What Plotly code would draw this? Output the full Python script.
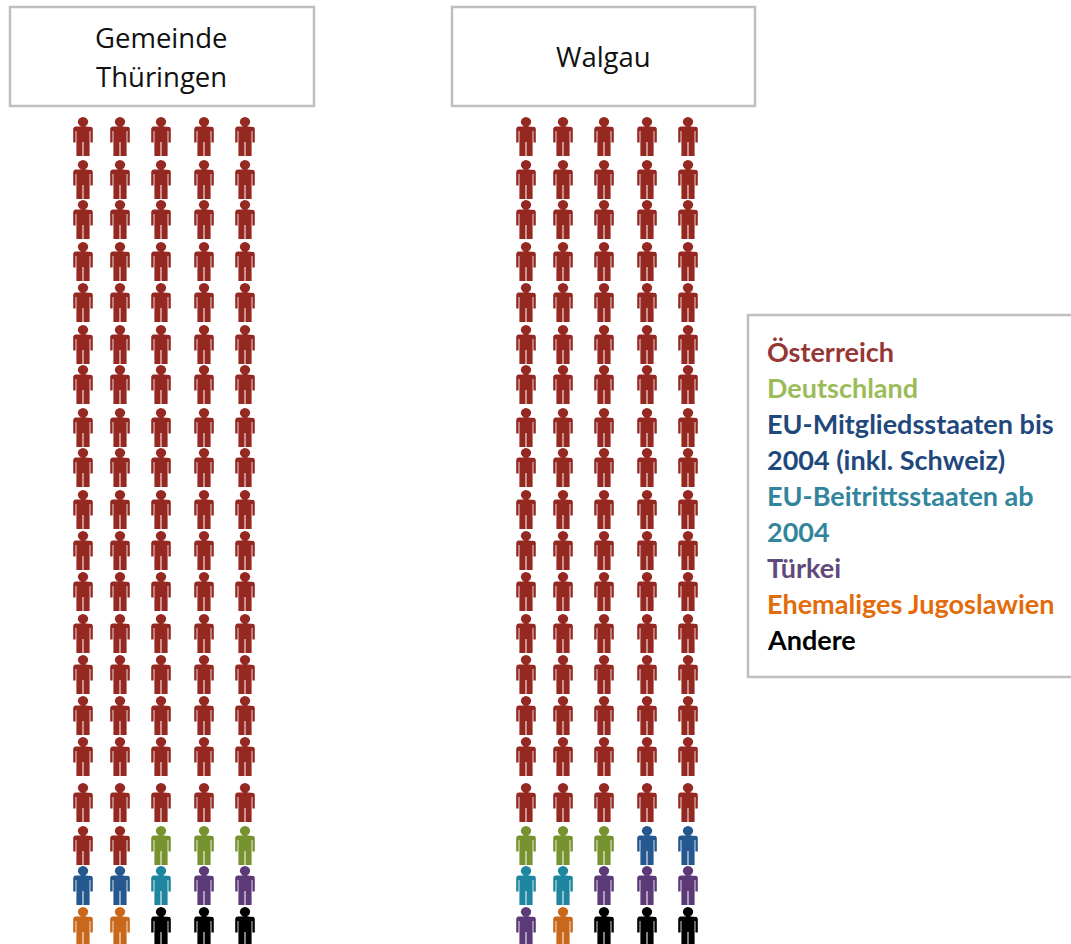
import math
import plotly.graph_objects as go

# ---- data: number of icons (out of 100) per category, filled row by row
categories = ["Österreich", "Deutschland", "EU-Mitgliedsstaaten bis 2004 (inkl. Schweiz)",
              "EU-Beitrittsstaaten ab 2004", "Türkei", "Ehemaliges Jugoslawien", "Andere"]
thueringen_order = [87, 3, 2, 1, 2, 2, 3]
walgau_order = [85, 3, 2, 2, 4, 1, 3]
panel_title_lines = [("Gemeinde", 161, 37), ("Thüringen", 161, 76), ("Walgau", 603, 56)]
legend_lines = [("Österreich", 0), ("Deutschland", 1), ("EU-Mitgliedsstaaten bis", 2),
                ("2004 (inkl. Schweiz)", 2), ("EU-Beitrittsstaaten ab", 3), ("2004", 3),
                ("Türkei", 4), ("Ehemaliges Jugoslawien", 5), ("Andere", 6)]

# ---- styling / layout
icon_colors = ["#962822", "#76932F", "#24588F", "#1F86A0", "#5C3A78", "#C9671A", "#000000"]
text_colors = ["#953735", "#9BBB59", "#1F497D", "#31859C", "#604A7B", "#E36C0A", "#000000"]
columns_a = [83, 120, 161, 204, 245]
columns_b = [526, 563, 604, 647, 688]
row_tops = [117, 160, 200, 242, 283, 325, 365, 408, 448, 490,
            531, 572, 614, 655, 696, 737, 783, 826, 866, 907]

head = [(5.2 * math.cos(2 * math.pi * i / 24), 4.8 + 4.8 * math.sin(2 * math.pi * i / 24)) for i in range(25)]
# body outline with thin slits between arms/torso and between the legs
body = [(-2.5, 8.5), (2.5, 8.5), (2.5, 9.4), (7.2, 9.4), (8.9, 10.0), (9.8, 11.8), (9.8, 25.5), (7.4, 25.5), (7.4, 14),
        (6.6, 14), (6.6, 39), (0.5, 39), (0.5, 25), (-0.5, 25), (-0.5, 39), (-6.6, 39), (-6.6, 14),
        (-7.4, 14), (-7.4, 25.5), (-9.8, 25.5), (-9.8, 11.8), (-8.9, 10.0), (-7.2, 9.4), (-2.5, 9.4), (-2.5, 8.5)]


def icon_path(cx, top):
    xs, ys = [], []
    for part in (head, body):
        xs += [cx + p[0] for p in part] + [None]
        ys += [top + p[1] for p in part] + [None]
    return xs, ys


fig = go.Figure()


def add_panel(counts, columns):
    slots = [(c, t) for t in row_tops for c in columns]
    i = 0
    for k, n in enumerate(counts):
        xs, ys = [], []
        for c, t in slots[i:i + n]:
            px, py = icon_path(c, t)
            xs += px
            ys += py
        i += n
        fig.add_trace(go.Scatter(x=xs, y=ys, mode="lines", fill="toself", fillcolor=icon_colors[k],
                                 line=dict(width=0, color=icon_colors[k]), name=categories[k],
                                 showlegend=False, hoverinfo="name"))


add_panel(thueringen_order, columns_a)
add_panel(walgau_order, columns_b)

BORDER = "#BFBFBF"
boxes = [(10, 7, 314, 106), (452, 7, 755, 106), (748, 315, 1080, 677)]
shapes = [dict(type="rect", xref="x", yref="y", x0=a, y0=b, x1=c, y1=d,
               line=dict(color=BORDER, width=2.5), fillcolor="white", layer="below") for a, b, c, d in boxes]

annotations = []
for title, cx, cy in panel_title_lines:
    annotations.append(dict(x=cx, y=cy, xref="x", yref="y", text=title, showarrow=False,
                            font=dict(family="Open Sans", size=27.5, color="#111111"),
                            xanchor="center", yanchor="middle", align="center"))
for idx, (line, k) in enumerate(legend_lines):
    annotations.append(dict(x=765, y=351 + idx * 36, xref="x", yref="y", text=line, showarrow=False,
                            font=dict(family="Lato", size=27, color=text_colors[k], weight="bold"),
                            xanchor="left", yanchor="middle"))

fig.update_layout(width=1071, height=944, margin=dict(l=0, r=0, t=0, b=0),
                  paper_bgcolor="white", plot_bgcolor="white", shapes=shapes, annotations=annotations,
                  showlegend=False,
                  xaxis=dict(range=[0, 1071], visible=False, fixedrange=True),
                  yaxis=dict(range=[944, 0], visible=False, fixedrange=True))
fig.write_html("out.html", config={"displayModeBar": False},
               post_script="document.body.style.margin='0';document.body.style.overflow='hidden';")
